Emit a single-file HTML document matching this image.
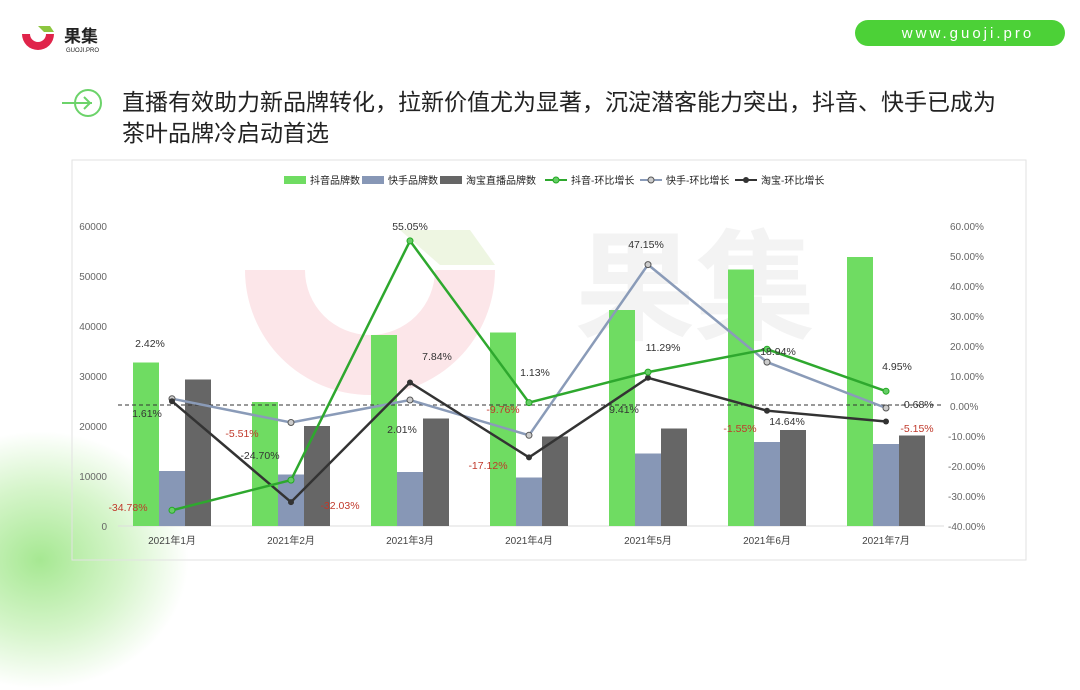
<!DOCTYPE html><html><head><meta charset="utf-8"><style>
body{margin:0;width:1080px;height:608px;overflow:hidden;background:#fff;font-family:"Liberation Sans","Noto Sans CJK SC",sans-serif;position:relative}
.t{position:absolute;left:122px;font-size:23px;color:#222;line-height:31px;font-family:"Liberation Sans","Noto Sans CJK SC",sans-serif}
</style></head><body>
<div style="position:absolute;left:-110px;top:430px;width:300px;height:260px;border-radius:50%;background:radial-gradient(ellipse at center,#a6e892 0%,#d6f5cb 40%,rgba(255,255,255,0) 70%)"></div>
<svg style="position:absolute;left:0;top:0" width="1080" height="608">
<path d="M22 34 A16 16 0 0 0 54 34 L46 34 A8 8 0 0 1 30 34Z" fill="#e0244a"/>
<path d="M38 26 L50 26 L54 32 L44 32Z" fill="#8cc63f"/>
<text x="64" y="42" font-size="17" font-weight="bold" fill="#222" font-family="Noto Sans CJK SC,sans-serif">果集</text>
<text x="66" y="52" font-size="6" fill="#222">GUOJI.PRO</text>
<rect x="855" y="20" width="210" height="26" rx="13" fill="#4cd137"/>
<text x="968" y="38" font-size="15" fill="#fff" text-anchor="middle" letter-spacing="3">www.guoji.pro</text>
<line x1="62" y1="103" x2="92" y2="103" stroke="#6cd36a" stroke-width="2"/>
<circle cx="88" cy="103" r="13" fill="none" stroke="#6cd36a" stroke-width="2"/>
<path d="M84 97 L90 103 L84 109" fill="none" stroke="#6cd36a" stroke-width="2"/>
</svg>
<div class="t" style="top:87px">直播有效助力新品牌转化，拉新价值尤为显著，沉淀潜客能力突出，抖音、快手已成为<br>茶叶品牌冷启动首选</div>
<svg style="position:absolute;left:0;top:0" width="1080" height="608" font-family="Liberation Sans,Noto Sans CJK SC,sans-serif">
<rect x="72" y="160" width="954" height="400" fill="none" stroke="#e2e2e2"/>
<path d="M245 270 A125 125 0 0 0 495 270 L435 270 A65 65 0 0 1 305 270Z" fill="#fce6e9"/>
<path d="M400 230 L470 230 L495 265 L440 265Z" fill="#eef6e2"/>
<text x="575" y="330" font-size="120" fill="#f3f3f3" font-weight="bold" font-family="Noto Sans CJK SC,sans-serif">果集</text>
<g fill="#222">
<rect x="284" y="176" width="22" height="8" fill="#6fdc62"/><text x="310" y="184" font-size="10">抖音品牌数</text>
<rect x="362" y="176" width="22" height="8" fill="#8797b6"/><text x="388" y="184" font-size="10">快手品牌数</text>
<rect x="440" y="176" width="22" height="8" fill="#666"/><text x="466" y="184" font-size="10">淘宝直播品牌数</text>
<line x1="545" y1="180" x2="567" y2="180" stroke="#2ea82e" stroke-width="2"/><circle cx="556" cy="180" r="3" fill="#6c6" stroke="#2a2"/><text x="571" y="184" font-size="10">抖音-环比增长</text>
<line x1="640" y1="180" x2="662" y2="180" stroke="#8a9bb8" stroke-width="2"/><circle cx="651" cy="180" r="3" fill="#ccc" stroke="#555"/><text x="666" y="184" font-size="10">快手-环比增长</text>
<line x1="735" y1="180" x2="757" y2="180" stroke="#333" stroke-width="2"/><circle cx="746" cy="180" r="3" fill="#333"/><text x="761" y="184" font-size="10">淘宝-环比增长</text>
</g>
<g font-size="10" fill="#666" text-anchor="end">
<text x="107" y="230">60000</text><text x="107" y="280">50000</text><text x="107" y="330">40000</text><text x="107" y="380">30000</text><text x="107" y="430">20000</text><text x="107" y="480">10000</text><text x="107" y="530">0</text>
</g>
<g font-size="10" fill="#666">
<text x="950" y="230">60.00%</text><text x="950" y="260">50.00%</text><text x="950" y="290">40.00%</text><text x="950" y="320">30.00%</text><text x="950" y="350">20.00%</text><text x="950" y="380">10.00%</text><text x="950" y="410">0.00%</text><text x="948" y="440">-10.00%</text><text x="948" y="470">-20.00%</text><text x="948" y="500">-30.00%</text><text x="948" y="530">-40.00%</text>
</g>
<line x1="118" y1="526" x2="944" y2="526" stroke="#ddd"/>
<g fill="#6fdc62">
<rect x="133" y="362.5" width="26" height="163.5"/><rect x="252" y="402" width="26" height="124"/><rect x="371" y="335" width="26" height="191"/><rect x="490" y="332.5" width="26" height="193.5"/><rect x="609" y="310" width="26" height="216"/><rect x="728" y="269.5" width="26" height="256.5"/><rect x="847" y="257" width="26" height="269"/>
</g>
<g fill="#8797b6">
<rect x="159" y="471" width="26" height="55"/><rect x="278" y="474.5" width="26" height="51.5"/><rect x="397" y="472" width="26" height="54"/><rect x="516" y="477.5" width="26" height="48.5"/><rect x="635" y="453.5" width="26" height="72.5"/><rect x="754" y="442" width="26" height="84"/><rect x="873" y="444" width="26" height="82"/>
</g>
<g fill="#666">
<rect x="185" y="379.5" width="26" height="146.5"/><rect x="304" y="426" width="26" height="100"/><rect x="423" y="418.5" width="26" height="107.5"/><rect x="542" y="436.5" width="26" height="89.5"/><rect x="661" y="428.5" width="26" height="97.5"/><rect x="780" y="430" width="26" height="96"/><rect x="899" y="435.5" width="26" height="90.5"/>
</g>
<line x1="118" y1="405" x2="944" y2="405" stroke="#333" stroke-dasharray="4,3"/>
<polyline points="172,398.7 291,422.5 410,400 529,435.3 648,264.6 767,362.1 886,408" fill="none" stroke="#8a9bb8" stroke-width="2.5"/>
<polyline points="172,401.2 291,502.1 410,382.5 529,457.4 648,377.8 767,410.7 886,421.5" fill="none" stroke="#333" stroke-width="2.5"/>
<polyline points="172,510.3 291,480.1 410,240.9 529,402.6 648,372.1 767,349.2 886,391.2" fill="none" stroke="#2ea82e" stroke-width="2.5"/>
<g fill="#ccc" stroke="#555"><circle cx="172" cy="398.7" r="3"/><circle cx="291" cy="422.5" r="3"/><circle cx="410" cy="400" r="3"/><circle cx="529" cy="435.3" r="3"/><circle cx="648" cy="264.6" r="3"/><circle cx="767" cy="362.1" r="3"/><circle cx="886" cy="408" r="3"/></g>
<g fill="#333"><circle cx="172" cy="401.2" r="3"/><circle cx="291" cy="502.1" r="3"/><circle cx="410" cy="382.5" r="3"/><circle cx="529" cy="457.4" r="3"/><circle cx="648" cy="377.8" r="3"/><circle cx="767" cy="410.7" r="3"/><circle cx="886" cy="421.5" r="3"/></g>
<g fill="#6c6" stroke="#2a2"><circle cx="172" cy="510.3" r="3"/><circle cx="291" cy="480.1" r="3"/><circle cx="410" cy="240.9" r="3"/><circle cx="529" cy="402.6" r="3"/><circle cx="648" cy="372.1" r="3"/><circle cx="767" cy="349.2" r="3"/><circle cx="886" cy="391.2" r="3"/></g>
<g font-size="10.5" fill="#333" text-anchor="middle">
<text x="150" y="347">2.42%</text><text x="147" y="417">1.61%</text><text x="410" y="230">55.05%</text><text x="437" y="360">7.84%</text><text x="402" y="433">2.01%</text><text x="535" y="376">1.13%</text><text x="646" y="248">47.15%</text><text x="663" y="351">11.29%</text><text x="624" y="413">9.41%</text><text x="778" y="355">18.94%</text><text x="787" y="425">14.64%</text><text x="897" y="370">4.95%</text><text x="917" y="408">-0.68%</text><text x="260" y="459">-24.70%</text>
</g>
<g font-size="10.5" fill="#c0392b" text-anchor="middle">
<text x="128" y="511">-34.78%</text><text x="242" y="437">-5.51%</text><text x="340" y="509">-32.03%</text><text x="503" y="413">-9.76%</text><text x="488" y="469">-17.12%</text><text x="740" y="432">-1.55%</text><text x="917" y="432">-5.15%</text>
</g>
<g font-size="10" fill="#444" text-anchor="middle">
<text x="172" y="544">2021年1月</text><text x="291" y="544">2021年2月</text><text x="410" y="544">2021年3月</text><text x="529" y="544">2021年4月</text><text x="648" y="544">2021年5月</text><text x="767" y="544">2021年6月</text><text x="886" y="544">2021年7月</text>
</g>
</svg>
</body></html>
